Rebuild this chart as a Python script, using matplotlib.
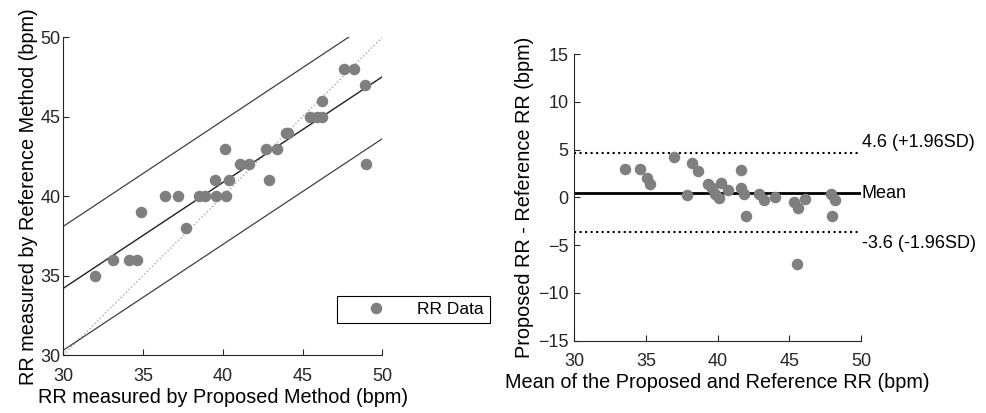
import numpy as np
import matplotlib.pyplot as plt

plt.rcParams['font.family'] = ['Liberation Sans', 'DejaVu Sans']

# --------------------------------------------------------------------------
# Data
# --------------------------------------------------------------------------

# scatter: proposed vs reference RR
proposed_rr = [32.0, 33.1, 34.1, 34.6, 34.85, 36.4, 37.2, 37.7, 38.5, 38.9,
               39.6, 40.2, 39.5, 40.4, 40.15, 41.1, 41.65, 42.9, 42.7, 43.4,
               43.95, 44.1, 45.5, 45.9, 46.2, 46.25, 47.6, 48.25, 48.9, 48.95]
reference_rr = [35, 36, 36, 36, 39, 40, 40, 38, 40, 40,
                40, 40, 41, 41, 43, 42, 42, 41, 43, 43,
                44, 44, 45, 45, 45, 46, 48, 48, 47, 42]

# fitted line and prediction band (as drawn)
fit_slope = 0.666
fit_intercept = 14.22
band_offset = 3.9

# Bland-Altman: mean vs difference
ba_mean = [33.5, 34.55, 35.05, 35.3, 36.95, 37.85, 38.2, 38.6, 39.3, 39.6,
           39.8, 40.1, 40.25, 40.75, 41.6, 41.6, 41.8, 42.0, 42.85, 43.2,
           44.0, 45.35, 45.6, 45.5, 46.1, 47.9, 48.15, 48.0]
ba_diff = [3.0, 3.0, 2.0, 1.4, 4.2, 0.3, 3.6, 2.8, 1.45, 0.95,
           0.35, -0.1, 1.5, 0.75, 2.9, 1.0, 0.4, -1.9, 0.35, -0.3,
           0.05, -0.5, -1.1, -7.0, -0.2, 0.4, -0.25, -1.9]
ba_bias = 0.5
ba_upper = 4.6
ba_lower = -3.6

marker_grey = '#7f7f7f'
axis_col = '#262626'
label_size = 14.3
tick_size = 13

fig = plt.figure(figsize=(9.87, 4.13), dpi=100)

# --------------------------------------------------------------------------
# Left panel - correlation plot
# --------------------------------------------------------------------------
ax1 = fig.add_axes([0.0641, 0.1404, 0.3232, 0.769])

xs = np.array([30, 50])
ax1.plot(xs, xs, linestyle=':', color='#a8a8a8', linewidth=1.0, zorder=1)
ax1.plot(xs, fit_slope * xs + fit_intercept, color='#202020', linewidth=1.0, zorder=2)
ax1.plot(xs, fit_slope * xs + fit_intercept + band_offset, color='#404040', linewidth=0.9, zorder=2)
ax1.plot(xs, fit_slope * xs + fit_intercept - band_offset, color='#404040', linewidth=0.9, zorder=2)
ax1.plot(proposed_rr, reference_rr, 'o', color=marker_grey, markersize=8.3,
         markeredgewidth=0, label='RR Data', zorder=3)

ax1.set_xlim(30, 50)
ax1.set_ylim(30, 50)
ax1.set_xticks([30, 35, 40, 45, 50])
ax1.set_yticks([30, 35, 40, 45, 50])
ax1.set_xlabel('RR measured by Proposed Method (bpm)', fontsize=label_size, labelpad=2)
ax1.set_ylabel('RR measured by Reference Method (bpm)', fontsize=label_size, labelpad=2)
ax1.tick_params(axis='x', pad=9.5)
ax1.tick_params(axis='y', pad=2)

leg = ax1.legend(loc='center', bbox_to_anchor=(413.7 / 987, 1 - 309.5 / 413),
                 bbox_transform=fig.transFigure, fontsize=12.5, frameon=True,
                 fancybox=False, edgecolor='black', framealpha=1,
                 handlelength=3.8, handletextpad=0.45, borderpad=0.35,
                 borderaxespad=0, numpoints=1)
leg.get_frame().set_linewidth(0.8)

# --------------------------------------------------------------------------
# Right panel - Bland-Altman plot
# --------------------------------------------------------------------------
ax2 = fig.add_axes([0.5819, 0.175, 0.2905, 0.694])

ax2.plot(ba_mean, ba_diff, 'o', color=marker_grey, markersize=8.3,
         markeredgewidth=0, zorder=3)
ax2.axhline(ba_bias, color='black', linewidth=2, zorder=2)
ax2.axhline(ba_upper, color='black', linewidth=1.5, linestyle=':', zorder=2)
ax2.axhline(ba_lower, color='black', linewidth=1.5, linestyle=':', zorder=2)

ax2.text(50.05, ba_upper + 1.1, '%.1f (+1.96SD)' % ba_upper, fontsize=13,
         ha='left', va='center', clip_on=False)
ax2.text(50.05, ba_bias - 0.1, 'Mean', fontsize=13, ha='left', va='center', clip_on=False)
ax2.text(50.05, ba_lower - 1.2, '%.1f (-1.96SD)' % ba_lower, fontsize=13,
         ha='left', va='center', clip_on=False)

ax2.set_xlim(30, 50)
ax2.set_ylim(-15, 15)
ax2.set_xticks([30, 35, 40, 45, 50])
ax2.set_yticks([-15, -10, -5, 0, 5, 10, 15])
ax2.set_xlabel('Mean of the Proposed and Reference RR (bpm)', fontsize=label_size, labelpad=2)
ax2.set_ylabel('Proposed RR - Reference RR (bpm)', fontsize=label_size, labelpad=3)
ax2.tick_params(axis='x', pad=9)
ax2.tick_params(axis='y', pad=4)

for ax in (ax1, ax2):
    ax.spines['top'].set_visible(False)
    ax.spines['right'].set_visible(False)
    for s in ('left', 'bottom'):
        ax.spines[s].set_linewidth(0.8)
        ax.spines[s].set_color(axis_col)
    ax.tick_params(direction='in', length=4, width=0.8, labelsize=tick_size,
                   colors=axis_col, labelcolor=axis_col)

fig.savefig('out.png', dpi=100)
